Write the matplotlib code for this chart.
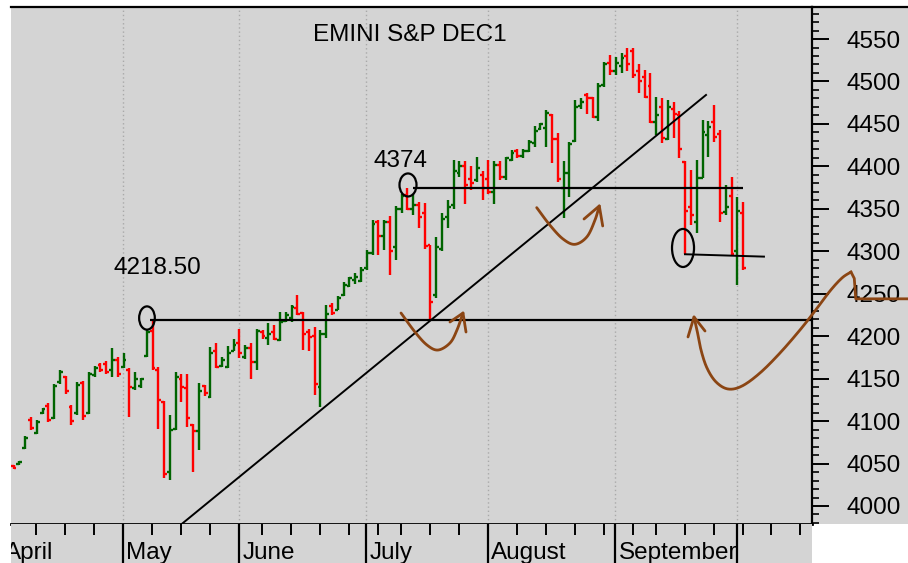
import matplotlib
matplotlib.use('Agg')
import matplotlib.pyplot as plt
import numpy as np
import pandas as pd
from matplotlib.patches import Ellipse, Rectangle
from matplotlib.lines import Line2D
from matplotlib.ticker import MultipleLocator

plt.rcParams['font.family'] = ['Liberation Sans', 'DejaVu Sans']

# ---------------- data ----------------
title = 'EMINI S&P DEC1'
axis_first_day = '2021-04-01'
axis_last_day = '2021-10-22'
holidays = ['2021-04-02', '2021-05-31', '2021-07-05', '2021-09-06']
bars_first_day = '2021-04-06'
month_names = ['April', 'May', 'June', 'July', 'August', 'September']

opens = [
    # April
    4047, 4049, 4068, 4101, 4086, 4110, 4118, 4104, 4146, 4152, 4117, 4110, 4145, 4110, 4154, 4166, 4167, 4160, 4172,
    # May
    4164, 4160, 4139, 4141, 4177, 4206, 4160, 4122, 4040, 4091, 4150, 4139, 4095, 4088, 4141, 4128, 4182, 4165, 4164, 4182,
    # June
    4192, 4175, 4186, 4170, 4205, 4198, 4205, 4196, 4218, 4222, 4233, 4227, 4205, 4200, 4140, 4203, 4235, 4231, 4248, 4259, 4266, 4265,
    # July
    4280, 4298, 4335, 4318, 4335, 4305, 4350, 4366, 4350, 4355, 4345, 4307, 4248, 4303, 4340, 4355, 4392, 4400, 4385, 4384, 4390,
    # August
    4385, 4370, 4402, 4388, 4408, 4418, 4412, 4418, 4428, 4444, 4445, 4460, 4432, 4375, 4392, 4430, 4471, 4484, 4480, 4458, 4496, 4522,
    # September
    4512, 4518, 4530, 4536, 4512, 4505, 4495, 4452, 4470, 4432, 4468, 4460, 4405, 4352, 4335, 4386, 4437, 4452, 4438, 4346, 4365,
    # October
    4300, 4345,
]
highs = [
    4048, 4053, 4082, 4105, 4101, 4116, 4121, 4144, 4160, 4153, 4119, 4146, 4147, 4158, 4165, 4169, 4171, 4186, 4175,
    4180, 4162, 4158, 4151, 4208, 4218.5, 4164, 4124, 4107, 4158, 4156, 4156, 4097, 4145, 4143, 4187, 4192, 4176, 4188, 4197,
    4209, 4190, 4192, 4209, 4207, 4215, 4213, 4229, 4229, 4237, 4248, 4229, 4208, 4211, 4207, 4237, 4239, 4247, 4264, 4270, 4274, 4282,
    4302, 4337, 4337, 4337, 4341, 4353, 4367, 4374, 4368, 4358, 4357, 4307, 4317, 4345, 4360, 4408, 4406, 4406, 4400, 4411, 4394,
    4408, 4406, 4406, 4411, 4419, 4421, 4420, 4431, 4447, 4451, 4466, 4462, 4439, 4406, 4429, 4478, 4480, 4486, 4482, 4498, 4523, 4531,
    4529, 4533, 4539, 4539, 4521, 4514, 4510, 4482, 4480, 4478, 4476, 4465, 4406, 4396, 4408, 4455, 4453, 4472, 4443, 4378, 4388,
    4364, 4358,
]
lows = [
    4044, 4048, 4067, 4089, 4085, 4108, 4099, 4103, 4144, 4132, 4095, 4107, 4101, 4108, 4152, 4158, 4156, 4152, 4152,
    4162, 4105, 4137, 4139, 4176, 4160, 4091, 4033, 4031, 4089, 4123, 4093, 4040, 4066, 4130, 4127, 4162, 4164, 4163, 4182,
    4174, 4173, 4150, 4160, 4197, 4190, 4196, 4194, 4217, 4217, 4225, 4184, 4183, 4131, 4117, 4198, 4225, 4231, 4247, 4258, 4262, 4264,
    4278, 4296, 4296, 4302, 4272, 4290, 4345, 4349, 4343, 4327, 4303, 4218.5, 4245, 4300, 4327, 4350, 4388, 4356, 4372, 4382, 4360,
    4368, 4356, 4384, 4384, 4406, 4410, 4410, 4417, 4423, 4443, 4423, 4404, 4382, 4339, 4364, 4429, 4468, 4462, 4457, 4453, 4494, 4508,
    4508, 4510, 4512, 4504, 4486, 4480, 4451, 4437, 4427, 4431, 4433, 4410, 4296.5, 4331, 4321, 4386, 4411, 4429, 4335, 4343, 4296,
    4260, 4278,
]
closes = [
    4045, 4052, 4080, 4092, 4099, 4114, 4101, 4141, 4158, 4136, 4100, 4143, 4106, 4155, 4162, 4160, 4158, 4172, 4156,
    4172, 4140, 4150, 4149, 4205, 4163, 4125, 4038, 4090, 4152, 4140, 4104, 4088, 4135, 4133, 4180, 4164, 4172, 4180, 4190,
    4180, 4186, 4170, 4206, 4200, 4203, 4197, 4217, 4225, 4234, 4226, 4203, 4199, 4144, 4203, 4226, 4227, 4245, 4260, 4268, 4270, 4278,
    4298, 4332, 4318, 4335, 4300, 4350, 4365, 4350, 4355, 4340, 4306, 4240, 4305, 4338, 4352, 4395, 4400, 4378, 4380, 4398, 4375,
    4370, 4402, 4387, 4410, 4416, 4412, 4418, 4429, 4442, 4450, 4463, 4432, 4385, 4392, 4426, 4470, 4476, 4480, 4458, 4495, 4520, 4512,
    4522, 4528, 4520, 4508, 4500, 4482, 4452, 4460, 4433, 4470, 4462, 4420, 4348, 4343, 4386, 4440, 4446, 4435, 4345, 4352, 4297,
    4348, 4280,
]

# annotation levels / labels
level_low = 4218.50
level_high = 4374
level_low_text = '4218.50'
level_high_text = '4374'
sept_low_level = (4296.5, 4293.7)

# ---------------- layout ----------------
W, H = 908, 563
DPI = 100
GRAY = '#d4d4d4'
GREEN = '#006400'
RED = '#ff0000'
BROWN = '#8B4513'
FS = 17.5

# trading-day calendar (x axis is trading-day index)
days = pd.bdate_range(axis_first_day, axis_last_day)
days = days[~days.isin(pd.to_datetime(holidays))]
t_of = {d: i for i, d in enumerate(days)}
bar_days = days[days >= pd.Timestamp(bars_first_day)][:len(opens)]
t_bars = np.array([t_of[d] for d in bar_days], dtype=float)

month_start = [i for i in range(len(days)) if i == 0 or days[i].month != days[i - 1].month]
week_start = [i for i in range(1, len(days))
              if days[i].isocalendar()[1] != days[i - 1].isocalendar()[1] and i not in month_start]
tick_shift = -0.1
major_t = np.array(month_start) + tick_shift
minor_t = np.array(week_start) + tick_shift

px_per_day = 5.79
x0_px = 2.0
ax_left_px, ax_right_px, ax_top_px, ax_bot_px = 11, 812, 7, 524
xlim = ((ax_left_px - x0_px) / px_per_day, (ax_right_px - x0_px) / px_per_day)
ylim = (3978.8, 4587.7)

fig = plt.figure(figsize=(W / DPI, H / DPI), dpi=DPI)
fig.patch.set_facecolor('white')

# right label panel background
fig.patches.append(Rectangle((ax_right_px / W, (H - ax_bot_px) / H), (W - ax_right_px) / W,
                             (ax_bot_px - ax_top_px) / H, transform=fig.transFigure,
                             facecolor=GRAY, edgecolor='none', zorder=-5))

ax = fig.add_axes([ax_left_px / W, (H - ax_bot_px) / H, (ax_right_px - ax_left_px) / W,
                   (ax_bot_px - ax_top_px) / H])
ax.set_facecolor(GRAY)
ax.set_xlim(*xlim)
ax.set_ylim(*ylim)

# month grid (dotted)
ax.vlines(major_t, ylim[0], ylim[1], colors='#a9a9a9', linestyles=(0, (1, 2)), lw=1.0, zorder=0.5)

# OHLC bars
o = np.array(opens, float); h = np.array(highs, float); l = np.array(lows, float); c = np.array(closes, float)
cols = np.where(c >= o, GREEN, RED)
hw = 0.5
ax.vlines(t_bars, l, h, colors=cols, lw=1.7, zorder=2, capstyle='butt')
ax.hlines(o, t_bars - hw, t_bars, colors=cols, lw=1.7, zorder=2)
ax.hlines(c, t_bars, t_bars + hw, colors=cols, lw=1.7, zorder=2)

# horizontal levels, trend line
ax.hlines(level_low, 25.6, xlim[1], colors='black', lw=1.6, zorder=3)
ax.hlines(level_high, 70.98, 127.93, colors='black', lw=1.6, zorder=3)
ax.plot([117.96, 131.6], list(sept_low_level), color='black', lw=1.4, zorder=3)
ax.plot([31.04, 121.59], [3978.8, 4484.1], color='black', lw=1.4, zorder=3)

# ellipses
for (ct, cp, ew, eh) in [(25.04, 4221.4, 2.71, 27.4), (70.12, 4378.1, 2.94, 27.1), (117.62, 4303.9, 3.80, 44.8)]:
    ax.add_patch(Ellipse((ct, cp), ew, eh, fill=False, edgecolor='black', lw=1.6, zorder=4))

# labels
ax.text(19.34, 4280.3, level_low_text, fontsize=FS, ha='left', va='center', zorder=5)
ax.text(64.2, 4406.4, level_high_text, fontsize=FS, ha='left', va='center', zorder=5)
ax.text(0.498, 0.946, title, fontsize=FS, ha='center', va='center', transform=ax.transAxes, zorder=5)


def smooth(pts, n=20):
    pts = np.asarray(pts, float)
    sx, sy = px_per_day, 0.849
    P = pts * np.array([sx, sy])
    P = np.vstack([P[0] * 2 - P[1], P, P[-1] * 2 - P[-2]])
    out = []
    for i in range(1, len(P) - 2):
        p0, p1, p2, p3 = P[i - 1], P[i], P[i + 1], P[i + 2]
        for s in np.linspace(0, 1, n, endpoint=False):
            s2, s3 = s * s, s * s * s
            out.append(0.5 * ((2 * p1) + (-p0 + p2) * s + (2 * p0 - 5 * p1 + 4 * p2 - p3) * s2
                              + (-p0 + 3 * p1 - 3 * p2 + p3) * s3))
    out.append(P[-2])
    out = np.array(out) / np.array([sx, sy])
    return out[:, 0], out[:, 1]


curve_a = [(68.91, 4227.3), (71.33, 4204.9), (73.40, 4189.6), (75.30, 4183.7), (77.37, 4192.0),
           (78.58, 4207.3), (79.62, 4227.3)]
head_a = [(77.37, 4216.7), (79.62, 4227.3), (80.14, 4204.9)]
curve_b = [(92.35, 4351.4), (94.65, 4330.6), (96.89, 4314.5), (98.96, 4308.2), (101.04, 4317.2),
           (102.42, 4336.9), (103.16, 4353.4)]
head_b = [(100.52, 4338.0), (103.16, 4353.4), (103.75, 4329.8)]
curve_c = [(119.52, 4222.6), (120.03, 4207.3), (120.73, 4183.7), (121.76, 4162.5), (123.32, 4146.1),
           (125.39, 4137.8), (127.81, 4141.3), (130.92, 4156.7), (134.37, 4180.2), (137.82, 4207.3),
           (140.41, 4229.7), (143.0, 4253.2), (145.08, 4268.6), (146.63, 4275.6)]
tail_c = [(146.63, 4275.6), (147.2, 4268.0), (147.45, 4244.0), (156.6, 4244.0)]
head_c = [(118.48, 4199.1), (119.52, 4222.6), (121.42, 4206.1)]

for cv, hd in [(curve_a, head_a), (curve_b, head_b), (curve_c, head_c)]:
    xs, ys = smooth(cv)
    ax.plot(xs, ys, color=BROWN, lw=2.0, zorder=4, clip_on=False, solid_capstyle='round')
    ax.plot([p[0] for p in hd], [p[1] for p in hd], color=BROWN, lw=2.0, zorder=4, clip_on=False,
            solid_capstyle='round', solid_joinstyle='round')
ax.plot([p[0] for p in tail_c], [p[1] for p in tail_c], color=BROWN, lw=2.0, zorder=4, clip_on=False,
        solid_joinstyle='round')

# spines & y axis
ax.spines['left'].set_visible(False)
ax.spines['top'].set_linewidth(1.6)
ax.spines['bottom'].set_linewidth(2.0)
ax.spines['right'].set_linewidth(1.6)
ax.set_xticks([])
ax.yaxis.tick_right()
ax.yaxis.set_major_locator(MultipleLocator(50))
ax.yaxis.set_minor_locator(MultipleLocator(10))
ax.tick_params(axis='y', which='major', length=12, width=1.4, pad=13, labelsize=FS,
               right=True, left=False, labelright=True, labelleft=False)
ax.tick_params(axis='y', which='minor', length=5, width=1.2, right=True, left=False)
ax.yaxis.set_major_formatter(matplotlib.ticker.FuncFormatter(lambda v, p: f'{v:.0f}'))

# top border extends over right panel
fig.add_artist(Line2D([ax_right_px / W, 1.0], [1 - ax_top_px / H] * 2, transform=fig.transFigure,
                      color='black', lw=1.6))

# x label strip
axs = fig.add_axes([ax_left_px / W, 0, (ax_right_px - ax_left_px) / W, (H - ax_bot_px) / H])
axs.set_facecolor(GRAY)
axs.set_xlim(*xlim)
axs.set_ylim(0, 1)
for s in axs.spines.values():
    s.set_visible(False)
axs.set_xticks([]); axs.set_yticks([])
axs.vlines(major_t, 0, 1, colors='black', lw=1.6)
axs.vlines(minor_t, 1 - 11 / 39, 1, colors='black', lw=1.4)
for i, name in zip(month_start, month_names):
    axs.text(i + tick_shift + 0.6, 0.11, name, fontsize=FS, ha='left', va='baseline', clip_on=True)

fig.savefig('out.png', dpi=DPI, facecolor='white')
